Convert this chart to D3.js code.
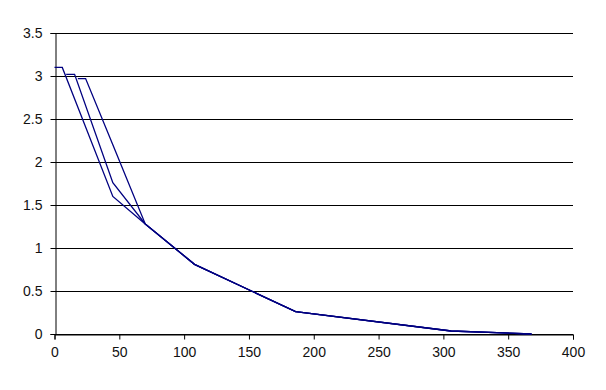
<!DOCTYPE html>
<html>
<head>
<meta charset="utf-8">
<script src="https://cdn.jsdelivr.net/npm/d3@7"></script>
<style>
body{margin:0;background:#fff}
svg{display:block;font-family:"Liberation Sans",Arial,sans-serif}
</style>
</head>
<body>
<div id="chart"></div>
<script>
// three curves, same colour, share the tail after x=70
const xA=[0,6,45,70,108,186,306,368]
const yA=[3.1,3.1,1.6,1.28,0.81,0.26,0.035,0]
const xB=[9,15.5,45,70,108,186,306,368]
const yB=[3.02,3.02,1.76,1.28,0.81,0.26,0.035,0]
const xC=[18,24,45,70,108,186,306,368]
const yC=[2.97,2.97,2.2,1.28,0.81,0.26,0.035,0]
const xTicks=[0,50,100,150,200,250,300,350,400]
const yTicks=[0,0.5,1,1.5,2,2.5,3,3.5]

const width=606
const height=390

const svg=d3.select("#chart")
.append("svg")
.attr("width",width)
.attr("height",height)

const x=d3.scaleLinear()
.domain([0,400])
.range([54.5,573])

const y=d3.scaleLinear()
.domain([0,3.5])
.range([334,33])

// grid lines
svg.append("g")
.selectAll("line")
.data(yTicks)
.join("line")
.attr("x1",x(0))
.attr("x2",x(400))
.attr("y1",d=>Math.round(y(d))+0.5)
.attr("y2",d=>Math.round(y(d))+0.5)
.attr("stroke","#000")

// X axis
const xAxis=svg.append("g")
.attr("transform",`translate(0,${Math.round(y(0))+0.5})`)
.call(d3.axisBottom(x).tickValues(xTicks).tickFormat(d=>String(d)).tickSizeOuter(0).tickSize(5).tickPadding(8))
xAxis.selectAll("text").style("font-size","14px").attr("fill","#111")
xAxis.selectAll("line,path").attr("stroke","#000")

// Y axis
const yAxis=svg.append("g")
.attr("transform",`translate(${Math.round(x(0))+0.5},0)`)
.call(d3.axisLeft(y).tickValues(yTicks).tickFormat(d=>String(d)).tickSizeOuter(0).tickSize(5).tickPadding(8))
yAxis.selectAll("text").style("font-size","14px").attr("fill","#111")
yAxis.selectAll("line,path").attr("stroke","#000")

const line=d3.line()
.x(d=>x(d[0]))
.y(d=>y(d[1]))

const series=[d3.zip(xA,yA),d3.zip(xB,yB),d3.zip(xC,yC)]

svg.append("g")
.selectAll("path")
.data(series)
.join("path")
.attr("d",line)
.attr("fill","none")
.attr("stroke","#000080")
.attr("stroke-width",1.3)
</script>
</body>
</html>
